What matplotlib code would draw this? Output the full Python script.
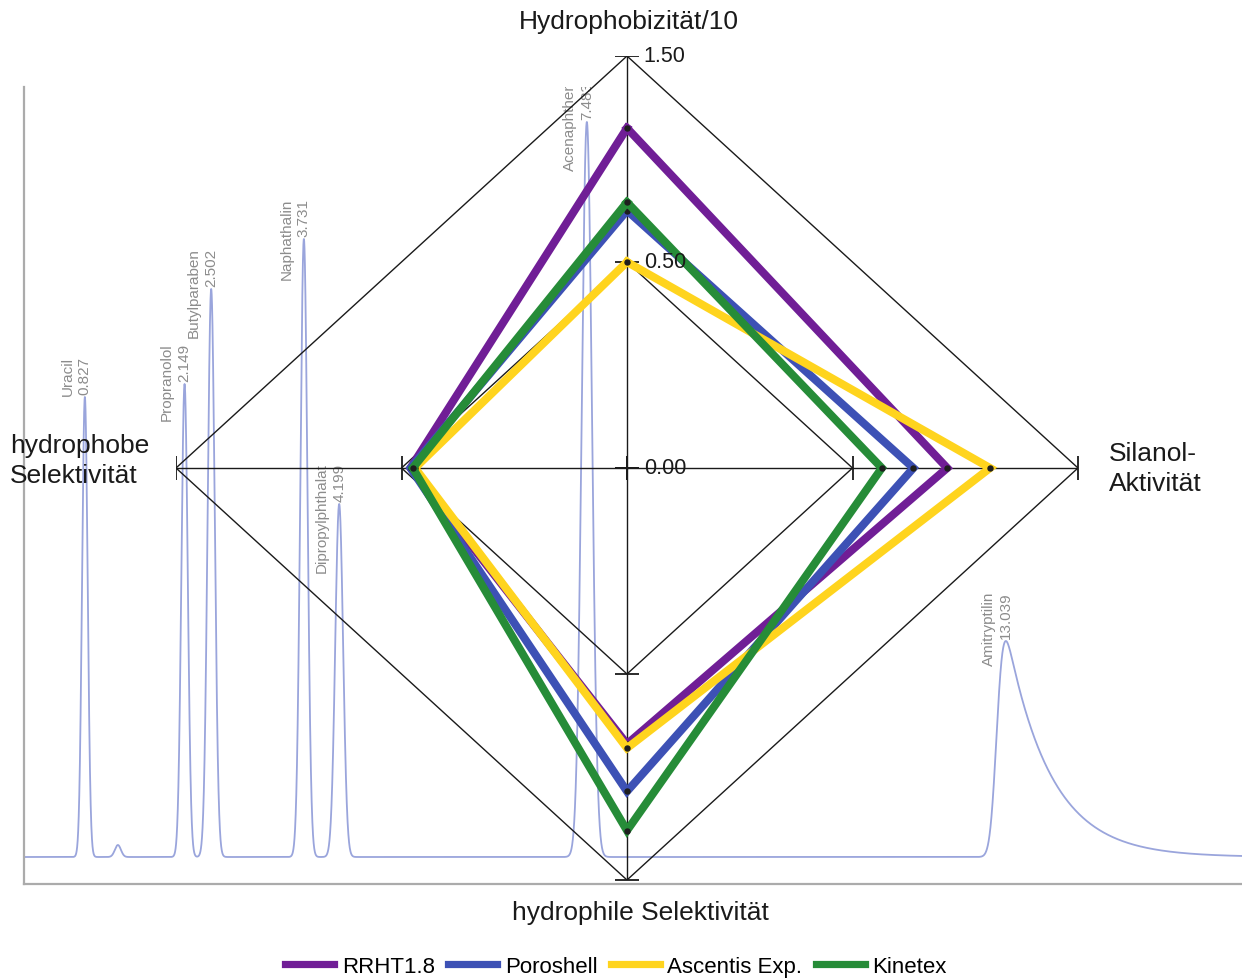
import math
import numpy as np
import matplotlib
matplotlib.use("Agg")
import matplotlib.pyplot as plt
from matplotlib.lines import Line2D

plt.rcParams['font.family'] = ['Liberation Sans', 'DejaVu Sans']

# --- radar (Netzdiagramm) data, axis order: top, right, bottom, left ---
AXIS_TITLES = ["Hydrophobizität/10", "Silanol-\nAktivität",
               "hydrophile Selektivität", "hydrophobe\nSelektivität"]
SCALE_MIN, SCALE_MAX = -0.5, 1.5
RING_VALUES = [-0.5, 0.5, 1.5]
RING_LABELS = ["0.00", "0.50", "1.50"]

SERIES_NAMES = ["RRHT1.8", "Poroshell", "Ascentis Exp.", "Kinetex"]
SERIES_COLORS = ["#701e96", "#3d51b5", "#ffd41e", "#268c38"]
rrht = [1.15, 0.92, 0.84, 0.46]
poroshell = [0.75, 0.77, 1.07, 0.46]
ascentis = [0.50, 1.11, 0.86, 0.44]
kinetex = [0.79, 0.63, 1.26, 0.45]
SERIES_VALUES = [rrht, poroshell, ascentis, kinetex]

# --- chromatogram in the background ---
peak_names = ["Uracil", None, "Propranolol", "Butylparaben", "Naphathalin",
              "Dipropylphthalat", "Acenaphthen", "Amitryptilin"]
peak_times = [0.827, 1.265, 2.149, 2.502, 3.731, 4.199, 7.483, 13.039]   # min
peak_heights = [460, 12, 473, 568, 618, 353, 735, 216]                   # mAU
peak_sigma = [0.037, 0.04, 0.042, 0.047, 0.047, 0.052, 0.068, 0.07]
peak_tau = [0, 0, 0, 0, 0, 0, 0, 0.58]
T_RANGE = (0.02, 16.17)
SIGNAL_RANGE = (-27, 770)

erfc_v = np.vectorize(math.erfc)


def emg(t, mu, sigma, tau):
    lam = 1.0 / tau
    return 0.5 * lam * np.exp(0.5 * lam * (2 * mu + lam * sigma ** 2 - 2 * t)) * \
        erfc_v((mu + lam * sigma ** 2 - t) / (math.sqrt(2) * sigma))


def peak_shape(t, tr, h, sigma, tau):
    if tau == 0:
        return h * np.exp(-0.5 * ((t - tr) / sigma) ** 2)
    y = emg(t, tr, sigma, tau)
    shift = t[np.argmax(y)] - tr
    y = emg(t, tr - shift, sigma, tau)
    return h * y / y.max()


def to_xy(values):
    """radar values -> cartesian points in the radar axes (closed polygon)"""
    xs, ys = [], []
    for i, v in enumerate(list(values) + [values[0]]):
        f = (v - SCALE_MIN) / (SCALE_MAX - SCALE_MIN)
        ang = i * math.pi / 2
        xs.append(f * math.sin(ang))
        ys.append(f * math.cos(ang))
    return xs, ys


W, H = 1242, 979
fig = plt.figure(figsize=(W / 100, H / 100), dpi=100)

# chromatogram axes
ax_c = fig.add_axes([24 / W, 94 / H, 1218 / W, 797 / H])
t = np.linspace(T_RANGE[0], T_RANGE[1], 24000)
signal = np.zeros_like(t)
for tr, h, s, tau in zip(peak_times, peak_heights, peak_sigma, peak_tau):
    signal += peak_shape(t, tr, h, s, tau)
ax_c.plot(t, signal, color="#9aa5dc", lw=1.3)
ax_c.set_xlim(*T_RANGE)
ax_c.set_ylim(*SIGNAL_RANGE)
ax_c.set_xticks([])
ax_c.set_yticks([])
for side in ["top", "right"]:
    ax_c.spines[side].set_visible(False)
for side in ["left", "bottom"]:
    ax_c.spines[side].set_color("#ababab")
    ax_c.spines[side].set_linewidth(1.6)

for name, tr, h in zip(peak_names, peak_times, peak_heights):
    if name is None:
        continue
    num = ax_c.annotate(f"{tr:.3f}", xy=(tr, h), xytext=(0, 2.5),
                        textcoords="offset points", rotation=90,
                        ha="center", va="bottom", fontsize=11,
                        color="#8c8c8c", annotation_clip=False, clip_on=True)
    ax_c.annotate(name, xy=(0.5, 1.0), xycoords=num, xytext=(-12.5, 0),
                  textcoords="offset points", rotation=90, ha="center",
                  va="top", fontsize=11, color="#8c8c8c", clip_on=True)

# radar axes on top
ax_r = fig.add_axes([176 / W, 98 / H, 902 / W, 824 / H])
ax_r.patch.set_alpha(0)
ax_r.set_xlim(-1, 1)
ax_r.set_ylim(-1, 1)
ax_r.axis("off")

grid_kw = dict(color="#1a1a1a", lw=1.0, zorder=2)
for rv in RING_VALUES[1:]:
    gx, gy = to_xy([rv] * 4)
    ax_r.plot(gx, gy, **grid_kw)
ox, oy = to_xy([SCALE_MAX] * 4)
for i in range(4):
    ax_r.plot([0, ox[i]], [0, oy[i]], **grid_kw)
# tick marks on the spokes
for rv in RING_VALUES:
    rx, ry = to_xy([rv] * 4)
    ax_r.plot([rx[0], rx[2]], [ry[0], ry[2]], ls="none", marker="_",
              ms=17, mew=1.3, color="#1a1a1a", zorder=2)
    ax_r.plot([rx[1], rx[3]], [ry[1], ry[3]], ls="none", marker="|",
              ms=17, mew=1.3, color="#1a1a1a", zorder=2)
# value labels along the top axis
for rv, lab in zip(RING_VALUES, RING_LABELS):
    rx, ry = to_xy([rv] * 4)
    ax_r.annotate(lab, xy=(rx[0], ry[0]), xytext=(12, 0),
                  textcoords="offset points", ha="left", va="center",
                  fontsize=15.5, color="#1a1a1a", zorder=6)

handles = []
for k, (name, vals, col) in enumerate(zip(SERIES_NAMES, SERIES_VALUES, SERIES_COLORS)):
    sx, sy = to_xy(vals)
    ax_r.plot(sx, sy, color=col, lw=5.8, solid_joinstyle="miter",
              zorder=3 + k * 0.1)
    ax_r.plot(sx[:-1], sy[:-1], ls="none", marker="o", ms=3.6,
              color="#1e1e1e", zorder=3.05 + k * 0.1)
    handles.append(Line2D([], [], color=col, lw=5.2, label=name))

# axis titles
title_kw = dict(fontsize=19, color="#1a1a1a", clip_on=False)
ax_r.text(0.005, 1.085, AXIS_TITLES[0], ha="center", va="center", **title_kw)
ax_r.text(1.171, 0.0, AXIS_TITLES[1], ha="center", va="center",
          multialignment="left", linespacing=1.3, **title_kw)
ax_r.text(0.03, -1.078, AXIS_TITLES[2], ha="center", va="center", **title_kw)
ax_r.text(-1.368, 0.02, AXIS_TITLES[3], ha="left", va="center",
          multialignment="left", linespacing=1.3, **title_kw)

fig.legend(handles=handles, loc="center", bbox_to_anchor=(0.496, 0.012),
           ncol=4, frameon=False, fontsize=16, handlelength=2.2,
           handletextpad=0.35, columnspacing=0.6)

fig.savefig("out.png", dpi=100)
